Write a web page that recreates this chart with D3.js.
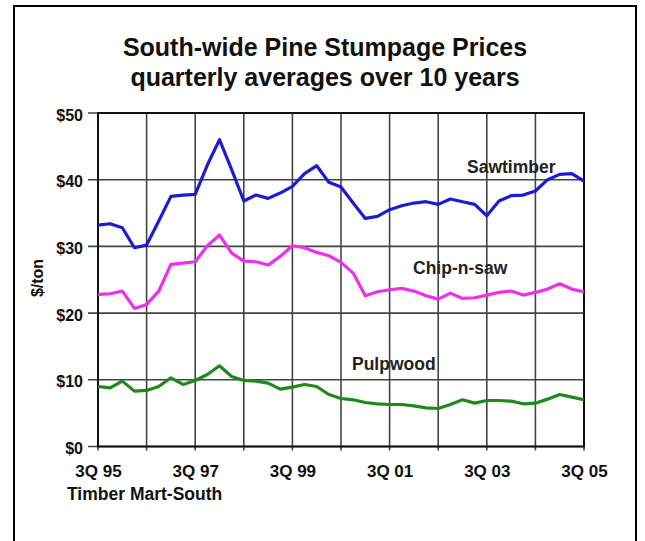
<!DOCTYPE html>
<html><head><meta charset="utf-8">
<script src="https://cdn.jsdelivr.net/npm/d3@7"></script>
<style>body{margin:0;background:#fff}svg{display:block;font-family:"Liberation Sans",Arial,sans-serif}</style>
</head><body>
<svg id="c" width="645" height="541"></svg>
<script>
const quarters = d3.range(41);
const xTickLabels = ["3Q 95","3Q 97","3Q 99","3Q 01","3Q 03","3Q 05"];
const yTicks = [0,10,20,30,40,50];
const sawtimber = [33.2,33.4,32.8,29.8,30.2,33.8,37.5,37.7,37.8,42.2,46.0,41.5,36.8,37.7,37.2,38.0,39.0,40.9,42.1,39.6,38.9,36.5,34.2,34.5,35.5,36.1,36.5,36.7,36.3,37.1,36.7,36.3,34.6,36.8,37.6,37.7,38.3,40.0,40.8,40.9,39.8];
const chipnsaw = [22.8,22.9,23.3,20.7,21.3,23.3,27.3,27.5,27.7,30.1,31.7,29.0,27.8,27.7,27.2,28.5,30.1,29.8,29.1,28.6,27.6,26.0,22.6,23.2,23.5,23.7,23.3,22.6,22.1,23.0,22.2,22.3,22.7,23.1,23.3,22.7,23.1,23.6,24.4,23.6,23.2];
const pulpwood = [9.0,8.8,9.8,8.3,8.4,9.0,10.3,9.3,9.9,10.8,12.1,10.5,9.9,9.8,9.5,8.6,8.9,9.3,9.0,7.8,7.2,7.0,6.6,6.4,6.3,6.3,6.1,5.8,5.7,6.3,7.0,6.5,6.9,6.9,6.8,6.4,6.5,7.1,7.8,7.4,7.0];
const seriesNames = ["Sawtimber","Chip-n-saw","Pulpwood"];
const seriesColors = ["#1c1cd2","#ee30ee","#1e8a1e"];

const svg = d3.select("#c");
const L=98, R=584, T=113, B=446.5;
const x = d3.scaleLinear().domain([0,40]).range([L,R]);
const y = d3.scaleLinear().domain([0,50]).range([B,T]);

// outer frame
svg.append("rect").attr("x",14).attr("y",6).attr("width",622).attr("height",600)
  .attr("fill","none").attr("stroke","#000").attr("stroke-width",2);

// title
const title = svg.append("text").attr("text-anchor","middle").attr("font-weight","bold")
  .attr("font-size",25).attr("fill","#111");
title.append("tspan").attr("x",325).attr("y",56).text("South-wide Pine Stumpage Prices");
title.append("tspan").attr("x",325).attr("y",86).text("quarterly averages over 10 years");

// grid
const g = svg.append("g");
g.selectAll(".hg").data(yTicks).join("line")
  .attr("x1",L-10).attr("x2",R).attr("y1",d=>y(d)).attr("y2",d=>y(d))
  .attr("stroke","#444").attr("stroke-width",1.6);
g.selectAll(".vg").data(d3.range(0,41,4)).join("line")
  .attr("x1",d=>x(d)).attr("x2",d=>x(d)).attr("y1",T).attr("y2",B+4)
  .attr("stroke","#444").attr("stroke-width",1.6);
svg.append("rect").attr("x",L).attr("y",T).attr("width",R-L).attr("height",B-T)
  .attr("fill","none").attr("stroke","#111").attr("stroke-width",2);

// y labels
const yAxis = d3.axisLeft(y).tickValues(yTicks).tickFormat(d=>"$"+d).tickSize(0).tickPadding(15);
const ya = svg.append("g").attr("transform",`translate(${L},2)`).call(yAxis);
ya.select(".domain").remove();
ya.selectAll("text").attr("font-size",16).attr("font-weight","bold").attr("fill","#111")
  .attr("font-family","Liberation Sans, Arial, sans-serif");

// x labels
const xl = d3.scalePoint().domain(xTickLabels).range([L,R]);
const xAxis = d3.axisBottom(xl).tickSize(0).tickPadding(18);
const xa = svg.append("g").attr("transform",`translate(0,${B})`).call(xAxis);
xa.select(".domain").remove();
xa.selectAll("text").attr("font-size",17).attr("font-weight","bold").attr("fill","#111")
  .attr("font-family","Liberation Sans, Arial, sans-serif");

svg.append("text").attr("x",67).attr("y",500).attr("font-size",17.5).attr("font-weight","bold")
  .attr("fill","#111").text("Timber Mart-South");
svg.append("text").attr("transform","translate(43,278) rotate(-90)").attr("text-anchor","middle")
  .attr("font-size",16).attr("font-weight","bold").attr("fill","#111").text("$/ton");

// lines
const line = d3.line().x((d,i)=>x(quarters[i])).y(d=>y(d));
[sawtimber,chipnsaw,pulpwood].forEach((s,k)=>{
  svg.append("path").datum(s).attr("d",line).attr("fill","none")
    .attr("stroke",seriesColors[k]).attr("stroke-width",3.2).attr("stroke-linejoin","round");
});

// series labels
const labelPos = [[467,173],[413,274],[352,370]];
seriesNames.forEach((n,k)=>{
  svg.append("text").attr("x",labelPos[k][0]).attr("y",labelPos[k][1]).attr("font-size",17.5)
    .attr("font-weight","bold").attr("fill","#222").text(n);
});
</script>
</body></html>
